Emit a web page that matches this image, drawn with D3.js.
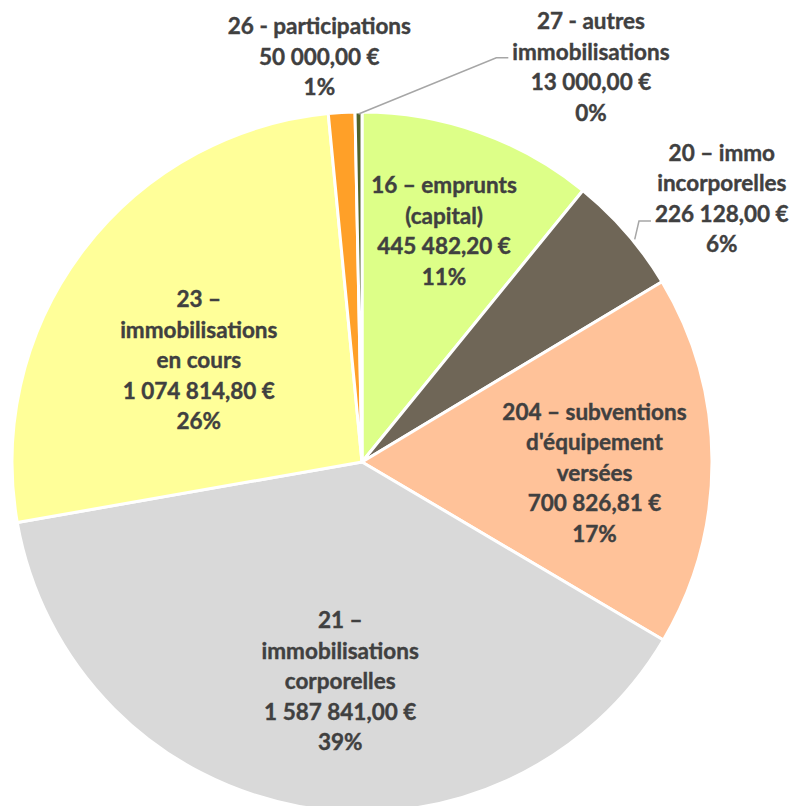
<!DOCTYPE html>
<html>
<head>
<meta charset="utf-8">
<script src="https://cdn.jsdelivr.net/npm/d3@7"></script>
<style>
  html, body { margin: 0; padding: 0; background: #fff; }
  svg { display: block; }
</style>
</head>
<body>
<div id="chart"></div>
<script>
// données
const categories = [
  ["16 – emprunts", "(capital)"],
  ["20 – immo", "incorporelles"],
  ["204 – subventions", "d'équipement", "versées"],
  ["21 –", "immobilisations", "corporelles"],
  ["23 –", "immobilisations", "en cours"],
  ["26 - participations"],
  ["27 - autres", "immobilisations"]
];
const values = [445482.20, 226128.00, 700826.81, 1587841.00, 1074814.80, 50000.00, 13000.00];
const colors = ["#DDFF88", "#6F6657", "#FFC299", "#D9D9D9", "#FFFF99", "#FFA028", "#4F6228"];

// placement des étiquettes : rayon (fraction de R) + petit décalage
const labelLayout = [
  { r: 0.70, dx: 0, dy: 0 },
  { r: 1.27, dx: 24, dy: 28, leader: true },
  { r: 0.67, dx: -2, dy: 12 },
  { r: 0.62, dx: 17, dy: 6 },
  { r: 0.55, dx: -10, dy: 15 },
  { r: 1.16, dx: -19, dy: 0 },
  { r: 1.16, dx: 233, dy: 11, leader: true }
];

const width = 798, height = 806;
const cx = 362, cy = 462, R = 350;
const lineH = 30.5;

const fr = d3.formatLocale({ decimal: ",", thousands: "\u00a0", grouping: [3], currency: ["", "\u00a0€"] });
const fmtEur = fr.format("$,.2f");
const total = d3.sum(values);

const svg = d3.select("#chart").append("svg")
  .attr("width", width)
  .attr("height", height);

const g = svg.append("g").attr("transform", `translate(${cx},${cy})`);

const pie = d3.pie().sort(null).value(d => d);
const arcs = pie(values);
const arc = d3.arc().innerRadius(0).outerRadius(R);

g.selectAll("path.slice")
  .data(arcs)
  .enter()
  .append("path")
  .attr("class", "slice")
  .attr("d", arc)
  .attr("fill", (d, i) => colors[i])
  .attr("stroke", "#fff")
  .attr("stroke-width", 3)
  .attr("stroke-linejoin", "round");

// position d'un point sur l'angle moyen
function polar(a, r) {
  return [Math.sin(a) * r, -Math.cos(a) * r];
}

arcs.forEach((d, i) => {
  const lay = labelLayout[i];
  const mid = (d.startAngle + d.endAngle) / 2;
  const p = polar(mid, R * lay.r);
  const x = p[0] + lay.dx, y = p[1] + lay.dy;
  const lines = categories[i].concat([fmtEur(values[i]), Math.round(values[i] / total * 100) + "%"]);
  const y0 = y - (lines.length - 1) * lineH / 2;

  const t = g.append("text")
    .attr("text-anchor", "middle")
    .attr("font-family", "Lato, 'Open Sans', sans-serif")
    .attr("font-weight", "bold")
    .attr("font-size", 22.5)
    .attr("fill", "#404040")
    .attr("stroke", "#404040")
    .attr("stroke-width", 0.4);
  lines.forEach((ln, k) => {
    t.append("tspan")
      .attr("x", x)
      .attr("y", y0 + k * lineH)
      .attr("dy", "0.35em")
      .text(ln);
  });

  if (lay.leader) {
    const bb = t.node().getBBox();
    const endX = bb.x - 4;
    let pts;
    if (i === 6) {
      const elbowY = y0 + lineH + 6;
      pts = [polar(mid, R - 2), [endX - 12, elbowY], [endX, elbowY]];
    } else {
      const elbowY = y0 + 2 * lineH + 7;
      const s = polar(mid + 0.03, R + 2);
      pts = [s, [endX - 12, elbowY], [endX, elbowY]];
    }
    g.append("path")
      .attr("d", d3.line()(pts))
      .attr("fill", "none")
      .attr("stroke", "#A6A6A6")
      .attr("stroke-width", 1.5);
  }
});
</script>
</body>
</html>
